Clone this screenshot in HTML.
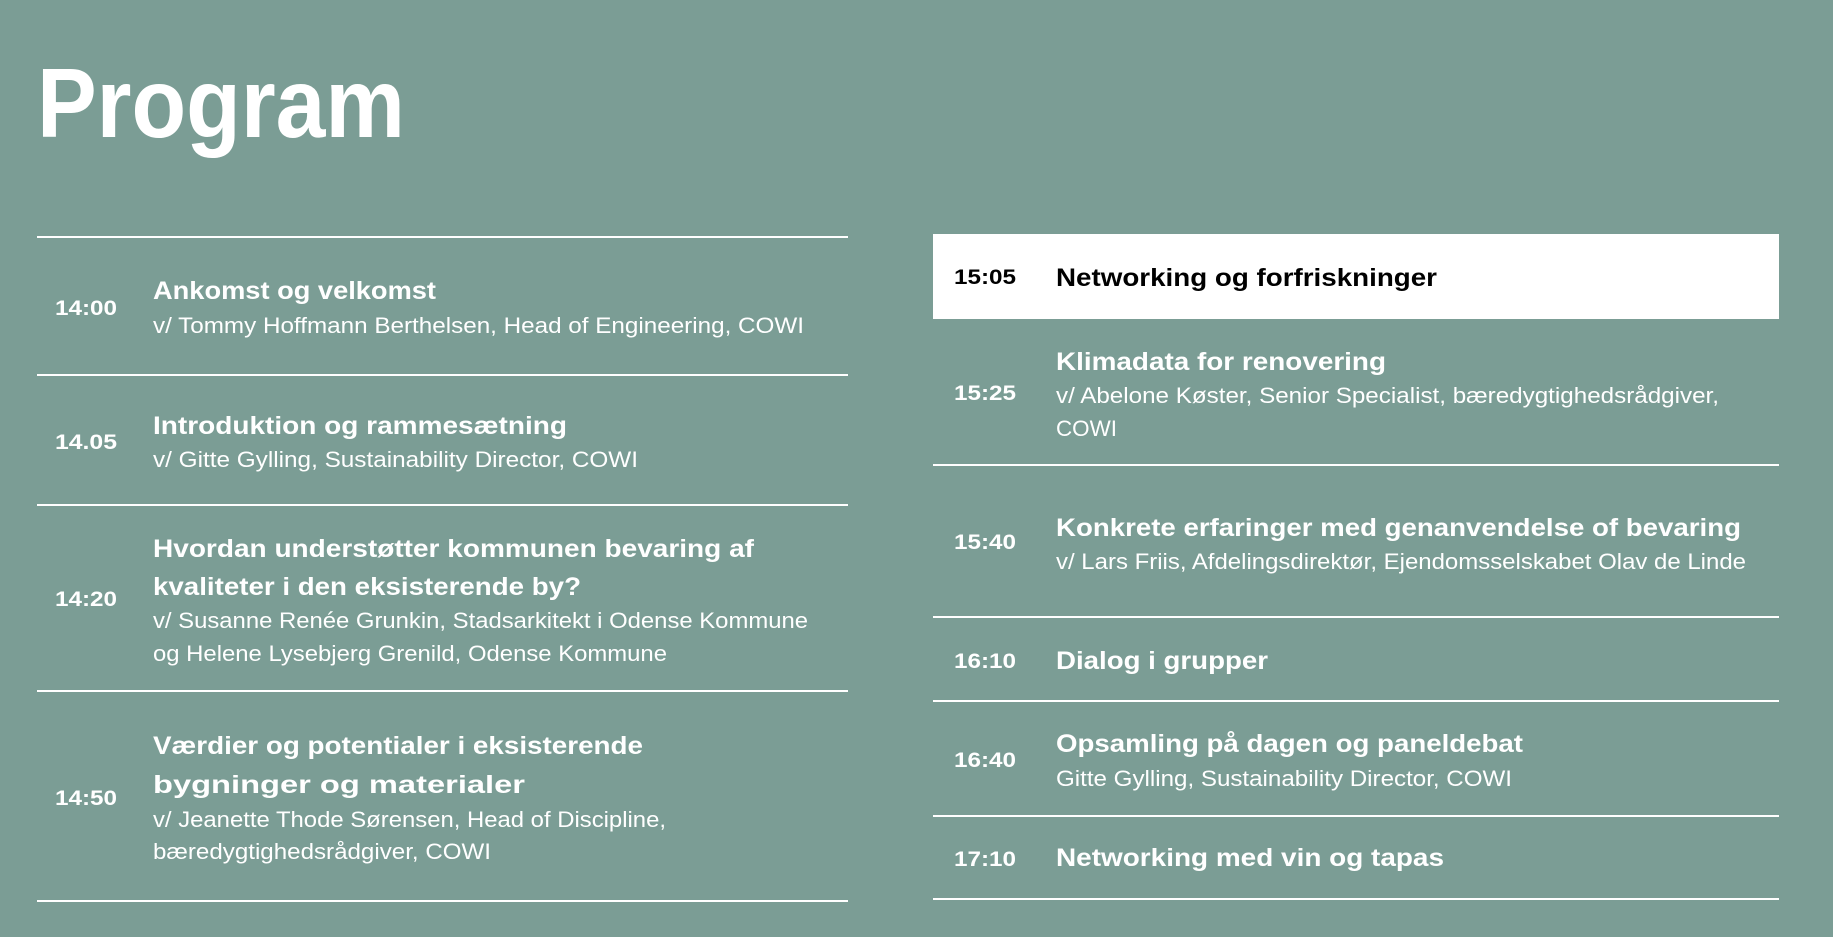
<!DOCTYPE html>
<html><head><meta charset="utf-8"><style>
html,body{margin:0;padding:0;background:#7b9d95;}
svg{display:block}
text{font-family:"Liberation Sans",sans-serif;fill:#fff}
.t{font-weight:bold;font-size:25px}
.s{font-size:22px}
.tm{font-weight:bold;font-size:21px}
</style></head><body>
<svg width="1833" height="937" viewBox="0 0 1833 937" xmlns="http://www.w3.org/2000/svg">
<rect width="1833" height="937" fill="#7b9d95"/>
<text x="37" y="137" font-size="98" font-weight="bold" textLength="368" lengthAdjust="spacingAndGlyphs">Program</text>
<g stroke="#fff" stroke-width="2">
<line x1="37" y1="237" x2="848" y2="237"/>
<line x1="37" y1="375" x2="848" y2="375"/>
<line x1="37" y1="505" x2="848" y2="505"/>
<line x1="37" y1="691" x2="848" y2="691"/>
<line x1="37" y1="901" x2="848" y2="901"/>
<line x1="933" y1="465" x2="1779" y2="465"/>
<line x1="933" y1="617" x2="1779" y2="617"/>
<line x1="933" y1="701" x2="1779" y2="701"/>
<line x1="933" y1="816" x2="1779" y2="816"/>
<line x1="933" y1="899" x2="1779" y2="899"/>
</g>
<rect x="933" y="234" width="846" height="85" fill="#fff"/>
<g lengthAdjust="spacingAndGlyphs">
<text class="tm" x="55" y="315" textLength="62" lengthAdjust="spacingAndGlyphs">14:00</text>
<text class="t" x="153" y="299" textLength="283" lengthAdjust="spacingAndGlyphs">Ankomst og velkomst</text>
<text class="s" x="153" y="333" textLength="651" lengthAdjust="spacingAndGlyphs">v/ Tommy Hoffmann Berthelsen, Head of Engineering, COWI</text>

<text class="tm" x="55" y="449" textLength="62" lengthAdjust="spacingAndGlyphs">14.05</text>
<text class="t" x="153" y="434" textLength="414" lengthAdjust="spacingAndGlyphs">Introduktion og rammesætning</text>
<text class="s" x="153" y="467" textLength="485" lengthAdjust="spacingAndGlyphs">v/ Gitte Gylling, Sustainability Director, COWI</text>

<text class="tm" x="55" y="606" textLength="62" lengthAdjust="spacingAndGlyphs">14:20</text>
<text class="t" x="153" y="557" textLength="601" lengthAdjust="spacingAndGlyphs">Hvordan understøtter kommunen bevaring af</text>
<text class="t" x="153" y="595" textLength="428" lengthAdjust="spacingAndGlyphs">kvaliteter i den eksisterende by?</text>
<text class="s" x="153" y="628" textLength="655" lengthAdjust="spacingAndGlyphs">v/ Susanne Renée Grunkin, Stadsarkitekt i Odense Kommune</text>
<text class="s" x="153" y="661" textLength="514" lengthAdjust="spacingAndGlyphs">og Helene Lysebjerg Grenild, Odense Kommune</text>

<text class="tm" x="55" y="805" textLength="62" lengthAdjust="spacingAndGlyphs">14:50</text>
<text class="t" x="153" y="754" textLength="490" lengthAdjust="spacingAndGlyphs">Værdier og potentialer i eksisterende</text>
<text class="t" x="153" y="793" textLength="372" lengthAdjust="spacingAndGlyphs">bygninger og materialer</text>
<text class="s" x="153" y="827" textLength="513" lengthAdjust="spacingAndGlyphs">v/ Jeanette Thode Sørensen, Head of Discipline,</text>
<text class="s" x="153" y="859" textLength="338" lengthAdjust="spacingAndGlyphs">bæredygtighedsrådgiver, COWI</text>

<text class="tm" x="954" y="284" textLength="62" lengthAdjust="spacingAndGlyphs" style="fill:#000">15:05</text>
<text class="t" x="1056" y="286" textLength="381" lengthAdjust="spacingAndGlyphs" style="fill:#000">Networking og forfriskninger</text>

<text class="tm" x="954" y="400" textLength="62" lengthAdjust="spacingAndGlyphs">15:25</text>
<text class="t" x="1056" y="370" textLength="330" lengthAdjust="spacingAndGlyphs">Klimadata for renovering</text>
<text class="s" x="1056" y="403" textLength="663" lengthAdjust="spacingAndGlyphs">v/ Abelone Køster, Senior Specialist, bæredygtighedsrådgiver,</text>
<text class="s" x="1056" y="436" textLength="61" lengthAdjust="spacingAndGlyphs">COWI</text>

<text class="tm" x="954" y="549" textLength="62" lengthAdjust="spacingAndGlyphs">15:40</text>
<text class="t" x="1056" y="536" textLength="685" lengthAdjust="spacingAndGlyphs">Konkrete erfaringer med genanvendelse of bevaring</text>
<text class="s" x="1056" y="569" textLength="690" lengthAdjust="spacingAndGlyphs">v/ Lars Friis, Afdelingsdirektør, Ejendomsselskabet Olav de Linde</text>

<text class="tm" x="954" y="668" textLength="62" lengthAdjust="spacingAndGlyphs">16:10</text>
<text class="t" x="1056" y="669" textLength="212" lengthAdjust="spacingAndGlyphs">Dialog i grupper</text>

<text class="tm" x="954" y="767" textLength="62" lengthAdjust="spacingAndGlyphs">16:40</text>
<text class="t" x="1056" y="752" textLength="467" lengthAdjust="spacingAndGlyphs">Opsamling på dagen og paneldebat</text>
<text class="s" x="1056" y="786" textLength="456" lengthAdjust="spacingAndGlyphs">Gitte Gylling, Sustainability Director, COWI</text>

<text class="tm" x="954" y="866" textLength="62" lengthAdjust="spacingAndGlyphs">17:10</text>
<text class="t" x="1056" y="866" textLength="388" lengthAdjust="spacingAndGlyphs">Networking med vin og tapas</text>
</g>
</svg>
</body></html>
